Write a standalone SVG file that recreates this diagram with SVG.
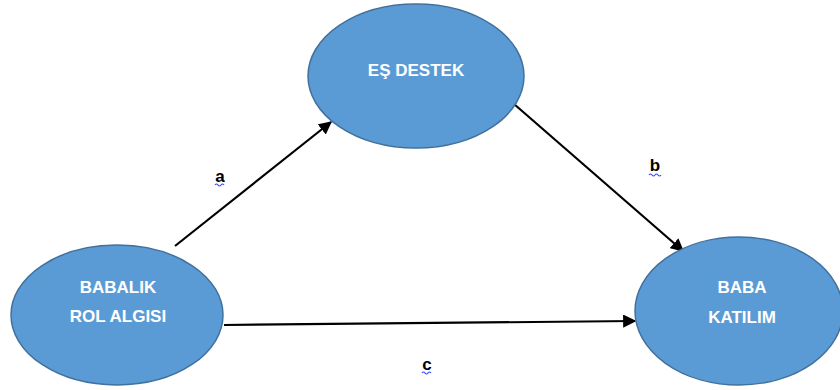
<svg xmlns="http://www.w3.org/2000/svg" width="840" height="390" viewBox="0 0 840 390">
<style>
.node ellipse{fill:#5B9BD5;stroke:#41719C;stroke-width:1.5}
.node text{font-family:"Liberation Sans",Arial,sans-serif;font-weight:bold;font-size:17px;fill:#fff;text-anchor:middle}
.edge{stroke:#000;stroke-width:2.2;fill:none;marker-end:url(#ah)}
.lbl{font-family:"Liberation Sans",Arial,sans-serif;font-weight:bold;font-size:17px;fill:#000;text-anchor:middle}
.sq{stroke:#3B4BFF;stroke-width:1.2;fill:none}
</style>
<defs>
<marker id="ah" viewBox="0 0 10 10" refX="9" refY="5" markerWidth="6" markerHeight="6" markerUnits="strokeWidth" orient="auto">
<path d="M0,0 L10,5 L0,10 Z" fill="#000"/>
</marker>
</defs>
<rect width="840" height="390" fill="#fff"/>
<g id="connectors">
<line class="edge" x1="175" y1="246" x2="331" y2="122"/>
<line class="edge" x1="514" y1="104" x2="683" y2="251"/>
<line class="edge" x1="224" y1="325" x2="635" y2="321"/>
</g>
<g id="node-es-destek" class="node">
<ellipse cx="416" cy="76" rx="108" ry="72"/>
<text x="416" y="76">EŞ DESTEK</text>
</g>
<g id="node-babalik" class="node">
<ellipse cx="117" cy="315" rx="106" ry="70"/>
<text x="118" y="293">BABALIK</text>
<text x="118" y="322">ROL ALGISI</text>
</g>
<g id="node-baba-katilim" class="node">
<ellipse cx="739" cy="311" rx="104" ry="74"/>
<text x="742" y="293">BABA</text>
<text x="742" y="323">KATILIM</text>
</g>
<g id="labels">
<text class="lbl" x="220" y="182">a</text>
<path class="sq" d="M215,185 q1.5,-2 3,0 t3,0 t3,0"/>
<text class="lbl" x="655" y="171">b</text>
<path class="sq" d="M649,175 q1.5,-2 3,0 t3,0 t3,0 t3,0"/>
<text class="lbl" x="427" y="370">c</text>
<path class="sq" d="M422,373 q1.5,-2 3,0 t3,0 t3,0"/>
</g>
</svg>
